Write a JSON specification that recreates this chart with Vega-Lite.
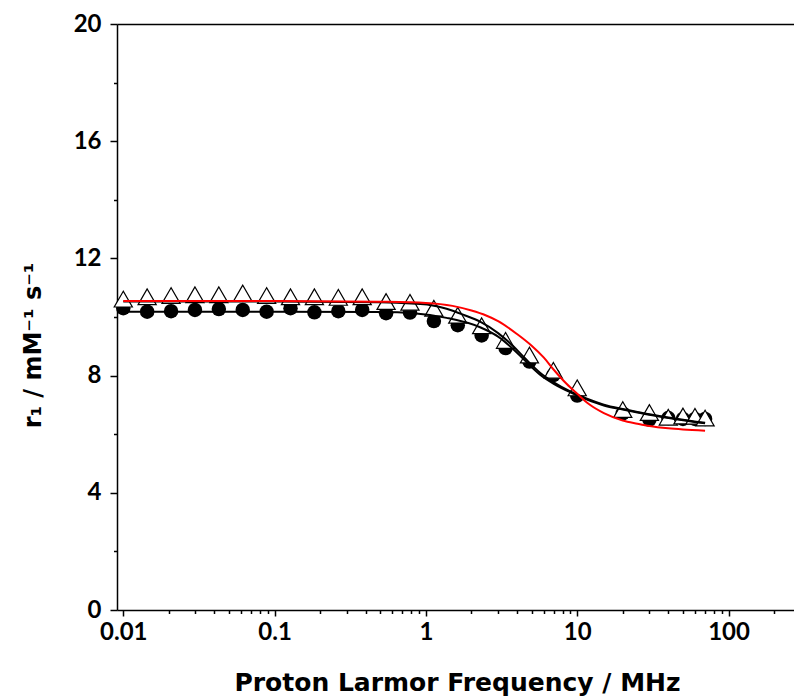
{
  "$schema": "https://vega.github.io/schema/vega-lite/v6.json",
  "width": 677,
  "height": 586,
  "autosize": {"type": "none"},
  "padding": {"left": 117, "top": 24, "right": 0, "bottom": 86},
  "background": "white",
  "config": {
    "view": {"stroke": null},
    "font": "Lato",
    "axis": {"grid": false, "domainColor": "black", "tickColor": "black", "labelColor": "black", "titleColor": "black", "domainWidth": 1.5, "tickWidth": 1.5, "labelFont": "Lato", "labelFontWeight": "bold", "labelFontSize": 24, "titleFont": "DejaVu Sans", "titleFontWeight": "bold", "titleFontSize": 24}
  },
  "datasets": {
    "pts": [
      {"f": 0.01, "tri": 10.61, "circ": 10.30},
      {"f": 0.01438, "tri": 10.69, "circ": 10.18},
      {"f": 0.02069, "tri": 10.73, "circ": 10.20},
      {"f": 0.02976, "tri": 10.76, "circ": 10.24},
      {"f": 0.04281, "tri": 10.76, "circ": 10.27},
      {"f": 0.06158, "tri": 10.82, "circ": 10.24},
      {"f": 0.08859, "tri": 10.73, "circ": 10.18},
      {"f": 0.1274, "tri": 10.69, "circ": 10.30},
      {"f": 0.1833, "tri": 10.69, "circ": 10.16},
      {"f": 0.2637, "tri": 10.67, "circ": 10.20},
      {"f": 0.3793, "tri": 10.69, "circ": 10.24},
      {"f": 0.5456, "tri": 10.53, "circ": 10.13},
      {"f": 0.7848, "tri": 10.50, "circ": 10.15},
      {"f": 1.129, "tri": 10.30, "circ": 9.86},
      {"f": 1.624, "tri": 10.06, "circ": 9.72},
      {"f": 2.336, "tri": 9.70, "circ": 9.37},
      {"f": 3.36, "tri": 9.20, "circ": 8.94},
      {"f": 4.833, "tri": 8.70, "circ": 8.48},
      {"f": 6.952, "tri": 8.18, "circ": 8.02},
      {"f": 10, "tri": 7.58, "circ": 7.32},
      {"f": 20, "tri": 6.84, "circ": 6.71},
      {"f": 30, "tri": 6.74, "circ": 6.50},
      {"f": 40, "tri": 6.58, "circ": 6.55},
      {"f": 50, "tri": 6.62, "circ": 6.52},
      {"f": 60, "tri": 6.61, "circ": 6.52},
      {"f": 70, "tri": 6.55, "circ": 6.52}
    ],
    "fits": [
      {"f": 0.01, "r": 10.53, "s": "A"}, {"f": 0.1, "r": 10.53, "s": "A"}, {"f": 0.5, "r": 10.5, "s": "A"}, {"f": 0.8, "r": 10.46, "s": "A"}, {"f": 1.06, "r": 10.41, "s": "A"}, {"f": 1.37, "r": 10.28, "s": "A"}, {"f": 1.8, "r": 10.06, "s": "A"}, {"f": 2.28, "r": 9.84, "s": "A"}, {"f": 3.0, "r": 9.45, "s": "A"}, {"f": 3.78, "r": 9.0, "s": "A"}, {"f": 4.5, "r": 8.6, "s": "A"}, {"f": 5.68, "r": 8.1, "s": "A"}, {"f": 7, "r": 7.77, "s": "A"}, {"f": 9, "r": 7.46, "s": "A"}, {"f": 11.5, "r": 7.22, "s": "A"}, {"f": 15, "r": 7.01, "s": "A"}, {"f": 20, "r": 6.86, "s": "A"}, {"f": 25, "r": 6.76, "s": "A"}, {"f": 32, "r": 6.66, "s": "A"}, {"f": 45, "r": 6.53, "s": "A"}, {"f": 70, "r": 6.39, "s": "A"},
      {"f": 0.01, "r": 10.18, "s": "B"}, {"f": 0.1, "r": 10.18, "s": "B"}, {"f": 0.5, "r": 10.17, "s": "B"}, {"f": 0.83, "r": 10.13, "s": "B"}, {"f": 1.37, "r": 9.97, "s": "B"}, {"f": 2.28, "r": 9.65, "s": "B"}, {"f": 3.0, "r": 9.33, "s": "B"}, {"f": 3.78, "r": 8.9, "s": "B"}, {"f": 4.5, "r": 8.52, "s": "B"}, {"f": 5.68, "r": 8.03, "s": "B"}, {"f": 7, "r": 7.72, "s": "B"}, {"f": 9, "r": 7.43, "s": "B"}, {"f": 11.5, "r": 7.19, "s": "B"}, {"f": 15, "r": 6.98, "s": "B"}, {"f": 20, "r": 6.84, "s": "B"}, {"f": 25, "r": 6.74, "s": "B"}, {"f": 32, "r": 6.64, "s": "B"}, {"f": 45, "r": 6.51, "s": "B"}, {"f": 70, "r": 6.37, "s": "B"},
      {"f": 0.01, "r": 10.55, "s": "C"}, {"f": 0.1, "r": 10.55, "s": "C"}, {"f": 0.5, "r": 10.52, "s": "C"}, {"f": 1.0, "r": 10.48, "s": "C"}, {"f": 1.5, "r": 10.38, "s": "C"}, {"f": 2.0, "r": 10.22, "s": "C"}, {"f": 2.5, "r": 10.05, "s": "C"}, {"f": 3.0, "r": 9.86, "s": "C"}, {"f": 4.0, "r": 9.42, "s": "C"}, {"f": 5.0, "r": 9.02, "s": "C"}, {"f": 6.0, "r": 8.62, "s": "C"}, {"f": 7.0, "r": 8.2, "s": "C"}, {"f": 8.5, "r": 7.72, "s": "C"}, {"f": 10, "r": 7.38, "s": "C"}, {"f": 12, "r": 7.02, "s": "C"}, {"f": 15, "r": 6.72, "s": "C"}, {"f": 20, "r": 6.47, "s": "C"}, {"f": 25, "r": 6.36, "s": "C"}, {"f": 30, "r": 6.28, "s": "C"}, {"f": 40, "r": 6.2, "s": "C"}, {"f": 50, "r": 6.16, "s": "C"}, {"f": 70, "r": 6.12, "s": "C"}
    ]
  },
  "resolve": {"axis": {"x": "independent", "y": "independent"}},
  "layer": [
    {
      "data": {"name": "pts"},
      "mark": {"type": "point", "shape": "circle", "filled": true, "color": "black", "size": 210, "opacity": 1},
      "encoding": {
        "x": {"field": "f", "type": "quantitative",
          "scale": {"type": "log", "domain": [0.009087, 270.9], "nice": false, "zero": false},
          "axis": {"orient": "bottom", "values": [0.01, 0.1, 1, 10, 100], "tickSize": 6, "labelPadding": 4,
            "labelExpr": "datum.value >= 1 ? format(datum.value, 'd') : format(datum.value, '.2~f')",
            "title": "Proton Larmor Frequency / MHz", "titleFontSize": 25, "titleX": 340, "titleY": 80, "titleBaseline": "alphabetic", "titleAnchor": null, "titleAlign": "center"}},
        "y": {"field": "circ", "type": "quantitative",
          "scale": {"domain": [0, 20], "nice": false, "zero": true},
          "axis": {"orient": "left", "values": [0, 4, 8, 12, 16, 20], "tickSize": 7, "labelPadding": 9,
            "title": "r₁ / mM⁻¹ s⁻¹", "titleX": -84, "titleY": 321, "titleAngle": -90, "titleAlign": "center", "titleBaseline": "middle", "titleAnchor": null}}
      }
    },
    {
      "data": {"name": "pts"},
      "mark": {"type": "point", "shape": "triangle-up", "filled": true, "fill": "white", "stroke": "black", "strokeWidth": 1.2, "size": 330, "opacity": 1},
      "encoding": {
        "x": {"field": "f", "type": "quantitative",
          "axis": {"orient": "bottom", "values": [0.02, 0.03, 0.04, 0.05, 0.06, 0.07, 0.08, 0.09, 0.2, 0.3, 0.4, 0.5, 0.6, 0.7, 0.8, 0.9, 2, 3, 4, 5, 6, 7, 8, 9, 20, 30, 40, 50, 60, 70, 80, 90, 200], "labels": false, "tickSize": 3.5, "domain": false, "title": null}},
        "y": {"field": "tri", "type": "quantitative",
          "axis": {"orient": "left", "values": [2, 6, 10, 14, 18], "labels": false, "tickSize": 3.5, "domain": false, "title": null}}
      }
    },
    {
      "data": {"name": "fits"},
      "mark": {"type": "line", "strokeWidth": 2, "interpolate": "monotone"},
      "encoding": {
        "x": {"field": "f", "type": "quantitative",
          "axis": {"orient": "top", "ticks": false, "labels": false, "domain": true, "title": null}},
        "y": {"field": "r", "type": "quantitative", "axis": null},
        "detail": {"field": "s"},
        "color": {"field": "s", "type": "nominal", "scale": {"domain": ["A", "B", "C"], "range": ["black", "black", "#ff0000"]}, "legend": null}
      }
    }
  ]
}
